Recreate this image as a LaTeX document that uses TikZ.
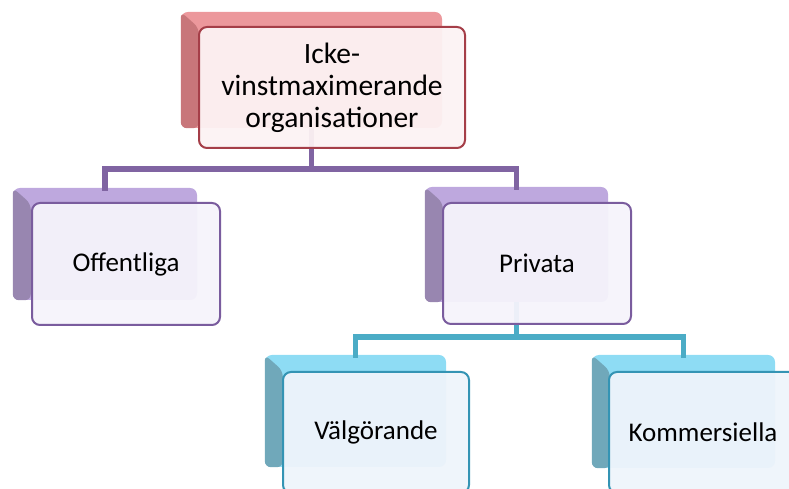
\documentclass[tikz,border=0pt]{standalone}
\usepackage{fontspec}
\setmainfont{Carlito}
\usepackage{tikz}
\usetikzlibrary{positioning}

\definecolor{rline}{RGB}{165,62,72}
\definecolor{rback}{RGB}{236,152,156}
\definecolor{rdark}{RGB}{200,118,122}
\definecolor{rfront}{RGB}{252,242,243}
\definecolor{pline}{RGB}{122,92,158}
\definecolor{pconn}{RGB}{128,100,162}
\definecolor{pback}{RGB}{190,168,222}
\definecolor{pdark}{RGB}{152,134,176}
\definecolor{pfront}{RGB}{245,243,251}
\definecolor{bline}{RGB}{52,148,180}
\definecolor{bconn}{RGB}{75,172,198}
\definecolor{bback}{RGB}{142,220,244}
\definecolor{bdark}{RGB}{112,168,186}
\definecolor{bfront}{RGB}{238,244,251}

\begin{document}
\begin{tikzpicture}[
  x=1pt, y=1pt,
  back/.style={rectangle, rounded corners=7pt, inner sep=0pt},
  front/.style={rectangle, rounded corners=8pt, draw, line width=2pt,
                inner sep=0pt, fill opacity=0.95, text opacity=1,
                font=\fontsize{27}{31}\selectfont, align=center},
  conn/.style={line width=5.5pt},
]
  \useasboundingbox (0,0) rectangle (789,489);
  \clip (0,0) rectangle (789,489);

  % --- back boxes ---
  \node[back, fill=rback, minimum width=261, minimum height=116] (tb) at (311.5,419) {};
  \node[back, fill=pback, minimum width=184, minimum height=112] (ob) at (105,245) {};
  \node[back, fill=pback, minimum width=183, minimum height=115] (pb) at (516.5,244.5) {};
  \node[back, fill=bback, minimum width=181, minimum height=112] (vb) at (355.5,78) {};
  \node[back, fill=bback, minimum width=183, minimum height=113] (kb) at (683.5,77.5) {};

  % bevel on the left side of each back box
  \foreach \b/\c in {tb/rdark, ob/pdark, pb/pdark, vb/bdark, kb/bdark}
    \fill[\c, rounded corners=6pt] (\b.north west) -- ++(18,-16)
      |- (\b.south west) -- cycle;

  % connectors
  \draw[conn, pconn] (tb.south) -- ++(0,-41) coordinate (tj);
  \draw[conn, pconn, line cap=rect] (tj) -| (ob.north);
  \draw[conn, pconn, line cap=rect] (tj) -| (pb.north);
  \draw[conn, bconn] (pb.south) -- ++(0,-35) coordinate (pj);
  \draw[conn, bconn, line cap=rect] (pj) -| (vb.north);
  \draw[conn, bconn, line cap=rect] (pj) -| (kb.north);

  % --- front boxes ---
  \node[front, draw=rline, fill=rfront, minimum width=266, minimum height=121,
        font=\fontsize{29.5}{32}\selectfont]
    (t) at (332,401.5) {Icke-\\vinstmaximerande\\organisationer};
  \node[front, draw=pline, fill=pfront, minimum width=188, minimum height=122]
    (o) at (126,225) {Offentliga};
  \node[front, draw=pline, fill=pfront, minimum width=188, minimum height=121]
    (p) at (537,225.5) {Privata};
  \node[front, draw=bline, fill=bfront, minimum width=186, minimum height=121]
    (v) at (376,56.5) {Välgörande};
  \node[front, draw=bline, fill=bfront, minimum width=188, minimum height=121]
    (k) at (703,56.5) {Kommersiella};
\end{tikzpicture}
\end{document}
